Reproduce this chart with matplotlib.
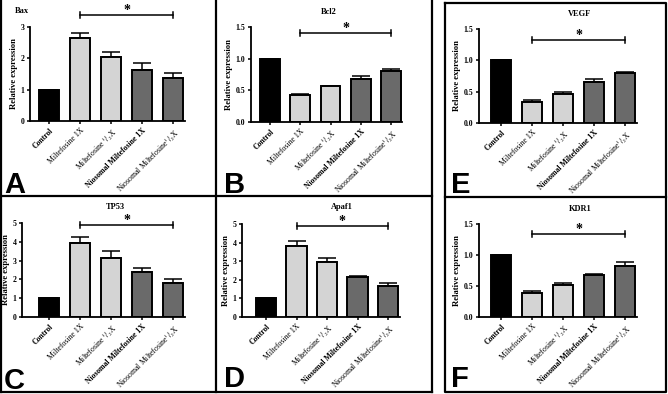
import matplotlib
matplotlib.use("Agg")
import matplotlib.pyplot as plt
from matplotlib.lines import Line2D

plt.rcParams['font.family'] = ['Liberation Serif', 'DejaVu Serif']
plt.rcParams['mathtext.fontset'] = 'stix'

W, H = 668, 394

categories = ["Control", "Miltefosine 1X", "Miltefosine $^{1}/_{2}$X",
              "Niosomal Miltefosine 1X", "Niosomal Miltefosine$^{1}/_{2}$X"]
label_weights = ["bold", "normal", "normal", "bold", "normal"]

bax_vals = [1.0, 2.65, 2.05, 1.63, 1.38]
bax_err = [0.0, 0.15, 0.15, 0.22, 0.14]
bcl2_vals = [1.0, 0.42, 0.565, 0.68, 0.81]
bcl2_err = [0.0, 0.03, 0.01, 0.04, 0.02]
vegf_vals = [1.0, 0.33, 0.47, 0.66, 0.80]
vegf_err = [0.0, 0.03, 0.03, 0.04, 0.02]
tp53_vals = [1.0, 3.95, 3.15, 2.38, 1.80]
tp53_err = [0.0, 0.30, 0.37, 0.22, 0.22]
apaf1_vals = [1.0, 3.80, 2.95, 2.15, 1.67]
apaf1_err = [0.0, 0.30, 0.22, 0.06, 0.15]
kdr1_vals = [1.0, 0.38, 0.52, 0.67, 0.82]
kdr1_err = [0.0, 0.04, 0.03, 0.02, 0.06]

colors = ["#000000", "#d4d4d4", "#d4d4d4", "#6a6a6a", "#6a6a6a"]

fig = plt.figure(figsize=(W / 100, H / 100), dpi=100)
fig.patch.set_facecolor("white")


def fx(px):
    return px / W


def fy(py):
    return 1 - py / H


def fline(xs, ys, lw=1.6):
    fig.add_artist(Line2D([fx(x) for x in xs], [fy(y) for y in ys],
                          transform=fig.transFigure, color="black", lw=lw,
                          solid_capstyle="projecting"))


# panel borders
fline([1, 1], [0, 392])
fline([216, 216], [0, 392])
fline([432, 432], [0, 392])
fline([1, 432], [196, 196])
fline([1, 432], [392, 392])
fline([445, 666, 666, 445, 445], [3, 3, 392, 392, 3])
fline([445, 666], [197, 197])

panels = [
    ("Bax", bax_vals, bax_err, 3, [0, 1, 2, 3], ["0", "1", "2", "3"],
     (30, 185, 27, 121), (49, 173), 3.38, (22, 11), "A", (4, 193)),
    ("Bcl2", bcl2_vals, bcl2_err, 1.5, [0, 0.5, 1.0, 1.5], ["0.0", "0.5", "1.0", "1.5"],
     (251, 402, 27, 122), (270, 391), 1.405, (329, 12), "B", (224, 193)),
    ("VEGF", vegf_vals, vegf_err, 1.5, [0, 0.5, 1.0, 1.5], ["0.0", "0.5", "1.0", "1.5"],
     (479, 637, 29, 123), (501, 625), 1.325, (580, 14), "E", (451, 193)),
    ("TP53", tp53_vals, tp53_err, 5, [0, 1, 2, 3, 4, 5], ["0", "1", "2", "3", "4", "5"],
     (22, 185, 223, 317), (49, 173), 4.89, (115, 207), "C", (4, 389)),
    ("Apaf1", apaf1_vals, apaf1_err, 5, [0, 1, 2, 3, 4, 5], ["0", "1", "2", "3", "4", "5"],
     (242, 400, 224, 317), (266, 388), 4.89, (342, 207), "D", (224, 387)),
    ("KDR1", kdr1_vals, kdr1_err, 1.5, [0, 0.5, 1.0, 1.5], ["0.0", "0.5", "1.0", "1.5"],
     (479, 637, 224, 317), (501, 625), 1.34, (580, 209), "F", (451, 387)),
]

for (name, vals, err, ymax, ticks, tlabels, (x0, x1, yt, yb), (c0, c4), by,
     (tx, ty), letter, (lx, ly)) in panels:
    ax = fig.add_axes([fx(x0), fy(yb), (x1 - x0) / W, (yb - yt) / H])
    s = (c4 - c0) / 4.0
    xs = list(range(len(categories)))
    ax.bar(xs, vals, width=0.66, color=colors, edgecolor="black", linewidth=1.4, zorder=2)
    ax.errorbar(xs, vals, yerr=[[0] * len(err), err], fmt="none", ecolor="black",
                elinewidth=1.1, capsize=6.5, capthick=1.1, zorder=1)
    ax.set_xlim((x0 - c0) / s, (x1 - c0) / s)
    ax.set_ylim(0, ymax)
    ax.set_yticks(ticks)
    ax.set_yticklabels(tlabels, fontsize=5.6, fontweight="bold")
    ax.set_xticks(xs)
    ax.set_xticklabels(categories, rotation=45, ha="right", rotation_mode="anchor", fontsize=5.6)
    for lab, w in zip(ax.get_xticklabels(), label_weights):
        lab.set_fontweight(w)
    ax.tick_params(axis="both", length=2.5, width=1.1, pad=1.5)
    for sp in ["top", "right"]:
        ax.spines[sp].set_visible(False)
    for sp in ["left", "bottom"]:
        ax.spines[sp].set_linewidth(1.3)
    ax.set_ylabel("Relative expression", fontsize=6.2, fontweight="bold", labelpad=2)
    ax.set_facecolor("white")
    # significance bracket
    tick_h = ymax * 0.035
    ax.plot([1, 4], [by, by], color="black", lw=1.1, clip_on=False)
    ax.plot([1, 1], [by - tick_h, by + tick_h], color="black", lw=1.1, clip_on=False)
    ax.plot([4, 4], [by - tick_h, by + tick_h], color="black", lw=1.1, clip_on=False)
    ax.annotate("*", xy=(2.5, by), xytext=(0, -1.5), textcoords="offset points",
                ha="center", va="bottom", fontsize=10, fontweight="bold",
                annotation_clip=False)
    fig.text(fx(tx), fy(ty), name, ha="center", va="center", fontsize=6, fontweight="bold")
    fig.text(fx(lx), fy(ly), letter, ha="left", va="baseline", fontsize=21,
             fontweight="bold", family=["Liberation Sans", "DejaVu Sans"])

fig.savefig("out.png", dpi=100, facecolor="white")
